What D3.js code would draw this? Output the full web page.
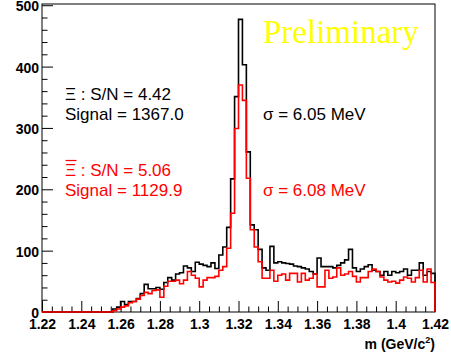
<!DOCTYPE html>
<html>
<head>
<meta charset="utf-8">
<script src="https://cdn.jsdelivr.net/npm/d3@7"></script>
<style>
  body { margin: 0; background: #fff; }
  svg { display: block; }
  .tick text { font-family: "Liberation Sans", Arial, sans-serif; font-weight: bold; font-size: 14px; fill: #000; }
</style>
</head>
<body>
<script>
"use strict";

// histogram binning: 100 bins of 2 MeV from 1.22 to 1.42 GeV
const xStart = 1.22;
const binWidth = 0.002;

// Xi candidates (black)
const xiCounts = [
  0, 0, 0, 0, 0, 0, 0, 0, 0, 0,
  0, 0, 0, 0, 0, 0, 0, 0, 5, 8,
  17, 12, 17, 17, 22, 30, 45, 38, 38, 40,
  37, 48, 56, 52, 62, 64, 75, 72, 66, 81,
  78, 76, 74, 80, 71, 93, 106, 138, 217, 351,
  477, 403, 261, 142, 134, 102, 72, 68, 107, 80,
  82, 80, 79, 78, 75, 74, 72, 70, 66, 62,
  88, 74, 74, 74, 72, 76, 80, 85, 102, 72,
  66, 70, 74, 77, 68, 66, 60, 66, 60, 66,
  64, 66, 70, 60, 68, 68, 80, 60, 66, 63
];

// anti-Xi candidates (red)
const antiXiCounts = [
  0, 0, 0, 0, 0, 0, 0, 0, 0, 0,
  0, 0, 0, 0, 0, 0, 0, 0, 2, 5,
  8, 10, 15, 17, 21, 27, 32, 30, 35, 36,
  24, 42, 50, 50, 52, 46, 52, 66, 60, 55,
  41, 52, 56, 56, 58, 68, 74, 104, 161, 299,
  370, 345, 218, 134, 106, 82, 55, 55, 68, 50,
  60, 62, 52, 63, 63, 49, 63, 52, 55, 62,
  41, 41, 68, 55, 57, 72, 60, 62, 66, 58,
  49, 56, 56, 66, 70, 66, 57, 52, 49, 50,
  47, 52, 57, 55, 49, 56, 68, 49, 70, 48
];

const xTicks = [1.22, 1.24, 1.26, 1.28, 1.3, 1.32, 1.34, 1.36, 1.38, 1.4, 1.42];
const yTicks = [0, 100, 200, 300, 400, 500];

const xiLabels = ["\u039E : S/N = 4.42", "Signal = 1367.0", "\u03C3 = 6.05 MeV"];
const antiXiLabels = ["\u039E : S/N = 5.06", "Signal = 1129.9", "\u03C3 = 6.08 MeV"];

const W = 451, H = 356;
const pL = 42, pR = 435, pT = 4, pB = 312;

const svg = d3.select("body").append("svg")
  .attr("width", W)
  .attr("height", H);

const x = d3.scaleLinear().domain([1.22, 1.42]).range([pL, pR]);
const y = d3.scaleLinear().domain([0, 502]).range([pB, pT]);

// minor ticks
const xMinor = d3.range(1.22, 1.4201, 0.005).filter(function (v) {
  return Math.abs(Math.round(v / 0.02) * 0.02 - v) > 1e-6;
});
const yMinor = d3.range(0, 501, 20).filter(function (v) { return v % 100 !== 0; });

svg.append("g")
  .attr("transform", "translate(0," + pB + ")")
  .call(d3.axisBottom(x).tickValues(xMinor).tickSize(-5.5).tickFormat(""))
  .call(function (g) { g.select(".domain").remove(); });

svg.append("g")
  .attr("transform", "translate(" + pL + ",0)")
  .call(d3.axisLeft(y).tickValues(yMinor).tickSize(-5.5).tickFormat(""))
  .call(function (g) { g.select(".domain").remove(); });

svg.append("g")
  .attr("transform", "translate(0," + pB + ")")
  .call(d3.axisBottom(x).tickValues(xTicks).tickSize(-11).tickPadding(7)
    .tickFormat(function (d) { return String(+d.toFixed(2)); }))
  .call(function (g) { g.select(".domain").remove(); });

svg.append("g")
  .attr("transform", "translate(" + pL + ",0)")
  .call(d3.axisLeft(y).tickValues(yTicks).tickSize(-11).tickPadding(3))
  .call(function (g) {
    g.select(".domain").remove();
    g.selectAll(".tick text").attr("dy", "0.4em");
  });

// frame
svg.append("rect")
  .attr("x", pL).attr("y", pT)
  .attr("width", pR - pL).attr("height", pB - pT)
  .attr("fill", "none")
  .attr("stroke", "#000")
  .attr("stroke-width", 1);

// step outline of a histogram
function histPoints(counts) {
  let pts = counts.map(function (c, i) { return [xStart + i * binWidth, c]; });
  let end = xStart + counts.length * binWidth;
  pts.push([end, counts[counts.length - 1]]);
  pts.push([end, 0]);
  return pts;
}

const line = d3.line()
  .x(function (d) { return x(d[0]); })
  .y(function (d) { return y(d[1]); })
  .curve(d3.curveStepAfter);

svg.append("path")
  .attr("d", line(histPoints(xiCounts)))
  .attr("fill", "none")
  .attr("stroke", "#000")
  .attr("stroke-width", 1.6);

svg.append("path")
  .attr("d", line(histPoints(antiXiCounts)))
  .attr("fill", "none")
  .attr("stroke", "#ff0000")
  .attr("stroke-width", 1.6);

// text
const font = "'Liberation Sans', Arial, sans-serif";

svg.append("text")
  .attr("x", 263).attr("y", 43)
  .style("font-family", "'Liberation Serif', 'Times New Roman', serif")
  .style("font-size", "33px")
  .attr("fill", "#ffff00")
  .text("Preliminary");

function label(tx, ty, str, col) {
  svg.append("text")
    .attr("x", tx).attr("y", ty)
    .style("font-family", font)
    .style("font-size", "17px")
    .attr("fill", col)
    .text(str);
}

label(65, 100, xiLabels[0], "#000");
label(65, 120, xiLabels[1], "#000");
label(263, 120, xiLabels[2], "#000");

// anti-Xi: same symbol with an overbar
label(65, 176, antiXiLabels[0], "#ff0000");
svg.append("line")
  .attr("x1", 65.5).attr("x2", 76.5)
  .attr("y1", 160.5).attr("y2", 160.5)
  .attr("stroke", "#ff0000")
  .attr("stroke-width", 1.2);
label(65, 196, antiXiLabels[1], "#ff0000");
label(263, 196, antiXiLabels[2], "#ff0000");

// x-axis title
const title = svg.append("text")
  .attr("x", pR).attr("y", 349)
  .attr("text-anchor", "end")
  .style("font-family", font)
  .style("font-weight", "bold")
  .style("font-size", "14px")
  .attr("fill", "#000");
title.append("tspan").text("m (GeV/c");
title.append("tspan").attr("dy", -6).style("font-size", "9px").text("2");
title.append("tspan").attr("dy", 6).text(")");
</script>
</body>
</html>
